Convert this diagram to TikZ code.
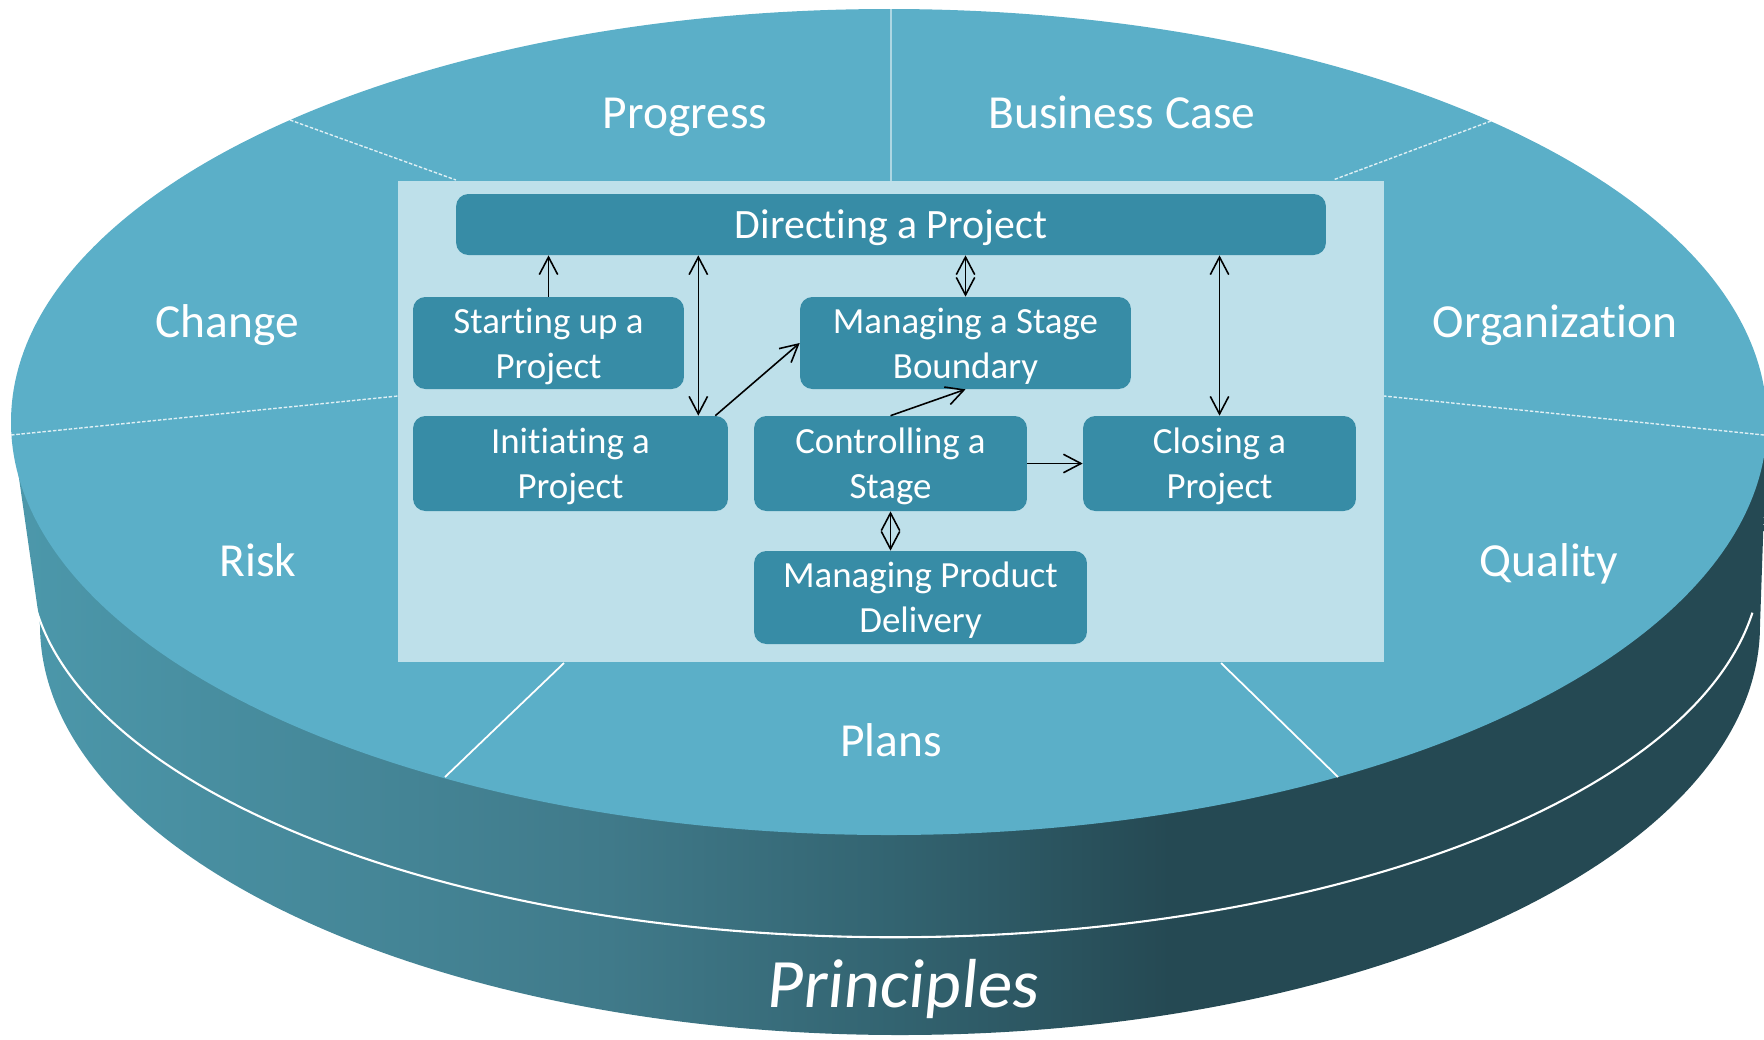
\documentclass[tikz,border=0pt]{standalone}
\usepackage{fontspec}
\setmainfont{Carlito}[Ligatures=CommonOff]
\usetikzlibrary{arrows.meta}
\definecolor{topface}{RGB}{91,175,200}
\definecolor{innerbg}{RGB}{190,224,234}
\definecolor{procfill}{RGB}{55,140,166}
\definecolor{wallL}{RGB}{76,152,171}
\definecolor{wallM}{RGB}{64,122,138}
\definecolor{wallC}{RGB}{51,100,113}
\definecolor{wallR}{RGB}{37,73,83}
\pgfdeclarehorizontalshading{wall}{100bp}{color(0bp)=(wallL); color(25bp)=(wallL); color(42bp)=(wallM); color(50bp)=(wallC); color(58bp)=(wallR); color(100bp)=(wallR)}
\begin{document}
\begin{tikzpicture}[>={Straight Barb[length=10pt,width=10.5pt]},x=0.02cm,y=-0.02cm,
	procbox/.style={fill=procfill,rounded corners=7pt,text=white,align=center,inner sep=0pt,text depth=0pt,font=\fontsize{21}{25.6}\selectfont},
	sector/.style={text=white,anchor=base,font=\fontsize{27}{30}\selectfont},
	split/.style={white,line width=0.8pt,dash pattern=on 2pt off 1pt,opacity=0.8},
	link/.style={line width=0.9pt}]
		\useasboundingbox (0,0) rectangle (1764,1039);
		\shade[shading=wall] (11,422) -- (40,625) arc[start angle=180,end angle=0,x radius=860,y radius=410] -- (1767,422) -- cycle;
		\draw[white,line width=1.2pt] (33,597) arc[start angle=174.4,end angle=8,x radius=866,y radius=377];
		\fill[topface] (889,422) ellipse[x radius=878,y radius=413];
		\draw[white,opacity=0.5,line width=1.2pt] (891,9) -- (891,181);
		\draw[split] (290,120) -- (456,180);
		\draw[split] (1491,121) -- (1333,180);
		\draw[split] (11,435) -- (398,396);
		\draw[split] (1764,435) -- (1384,396);
		\draw[white,line width=1pt] (564,663) -- (445,777);
		\draw[white,line width=1pt] (1221,663) -- (1338,777);
		\fill[innerbg] (398,181) rectangle (1384,662);
		\node[sector] (progress) at (685,128) {Progress};
		\node[sector] (business) at (1122,128) {Business Case};
		\node[sector] (change) at (227,337) {Change};
		\node[sector] (organization) at (1555,337) {Organization};
		\node[sector] (risk) at (258,576) {Risk};
		\node[sector] (quality) at (1549,576) {Quality};
		\node[sector] (plans) at (891,756) {Plans};
		\node[sector,font=\fontsize{39.5}{44}\selectfont,xslant=0.1] (principles) at (902,1007) {Principles};
		\node[procbox,minimum width=17.4cm,minimum height=1.22cm,font=\fontsize{23.8}{28}\selectfont] (dir) at (891,224.5) {Directing a Project};
		\node[procbox,minimum width=5.42cm,minimum height=1.84cm] (start) at (548.5,343) {Starting up a\\Project};
		\node[procbox,minimum width=6.62cm,minimum height=1.84cm] (msb) at (965.5,343) {Managing a Stage\\Boundary};
		\node[procbox,minimum width=6.3cm,minimum height=1.9cm] (init) at (570.5,463.5) {Initiating a\\Project};
		\node[procbox,minimum width=5.46cm,minimum height=1.9cm] (ctrl) at (890.5,463.5) {Controlling a\\Stage};
		\node[procbox,minimum width=5.46cm,minimum height=1.9cm] (close) at (1219.5,463.5) {Closing a\\Project};
		\node[procbox,minimum width=6.66cm,minimum height=1.86cm] (mpd) at (920.5,597.5) {Managing Product\\Delivery};
		\coordinate (initA) at ([xshift=-0.6cm]init.north east);
		\coordinate (initB) at ([xshift=-0.26cm]init.north east);
		\draw[link,->] (start.north) -- (start.north |- dir.south);
		\draw[link,<->] (dir.south -| initA) -- (initA);
		\draw[link,->] (initB) -- (msb.west);
		\draw[link,<->] (dir.south -| msb.north) -- (msb.north);
		\draw[link,->] (ctrl.north) -- (msb.south);
		\draw[link,<->] (dir.south -| close.north) -- (close.north);
		\draw[link,->] (ctrl.east) -- (close.west);
		\draw[link,<->] (ctrl.south) -- (ctrl.south |- mpd.north);
\end{tikzpicture}
\end{document}
